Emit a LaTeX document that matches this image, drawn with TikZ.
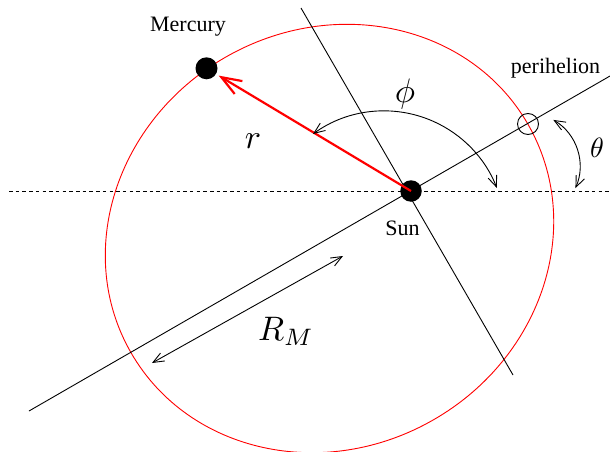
\documentclass[tikz,border=0pt]{standalone}
\usepackage{fontspec}
\setmainfont{Liberation Serif}
\usetikzlibrary{arrows.meta}
\tikzset{
  thinline/.style={line width=0.9pt},
  orbit/.style={draw=red, line width=0.9pt},
  body/.style={circle, fill=black, inner sep=0pt, minimum size=22pt},
  barb/.tip={Straight Barb[length=11pt,width=9pt]},
  dimarrow/.style={thinline, barb-barb},
  radarrow/.style={draw=red, line width=2.2pt, -{Straight Barb[length=20pt,width=15pt]}, shorten >=3pt},
  lbl/.style={font=\fontsize{22}{26}\selectfont, inner sep=0pt, anchor=base},
  mathlbl/.style={font=\fontsize{10}{12}\selectfont, inner sep=0pt, anchor=base, scale=3.4, transform shape},
}
\begin{document}
\begin{tikzpicture}[x=1pt, y=-1pt]
\useasboundingbox (0,0) rectangle (610,452);
% orbit
\coordinate (ctr) at (329.5,238.5);
\draw[orbit, rotate around={30:(ctr)}] (ctr) ellipse [x radius=229, y radius=209];
% reference dashed line
\coordinate (dl) at (9,191);
\coordinate (dr) at (610,191);
\draw[thinline, dash pattern=on 3.5pt off 3.2pt] (dl) -- (dr);
% major axis and perpendicular line
\coordinate (ax1) at (29,411);
\coordinate (ax2) at (610,76);
\draw[thinline] (ax1) -- (ax2);
\coordinate (lt1) at (301,8);
\coordinate (lt2) at (513,375);
\draw[thinline] (lt1) -- (lt2);
% perihelion marker
\node[circle, draw, thinline, minimum size=21pt, inner sep=0pt] (peri) at (528,124) {};
% bodies
\node[body, minimum size=21.5pt] (sun) at (411,191) {};
\node[body] (merc) at (206.5,68.3) {};
\draw[radarrow] (sun.center) -- (merc);
% angle arcs
\coordinate (phiA) at (313,134);
\draw[dimarrow] (phiA) arc[start angle=-126, end angle=-21.3, radius=121];
\coordinate (thA) at (553.3,119.9);
\draw[dimarrow] (thA) arc[start angle=-59.6, end angle=23.7, radius=54];
% R_M dimension
\coordinate (rm1) at (152,363);
\coordinate (rm2) at (343,256);
\draw[dimarrow] (rm1) -- (rm2);
% labels
\node[lbl] (lmerc) at (188,32) {Mercury};
\node[lbl] (lperi) at (555.5,74) {perihelion};
\node[lbl] (lsun) at (402.5,235) {Sun};
\node[mathlbl] (lr) at (253,148) {$r$};
\node[mathlbl] (lphi) at (405,102) {$\phi$};
\node[mathlbl, scale=0.82] (ltheta) at (597,157) {$\theta$};
\node[mathlbl] (lrm) at (286,340) {$R_M$};
\end{tikzpicture}
\end{document}
